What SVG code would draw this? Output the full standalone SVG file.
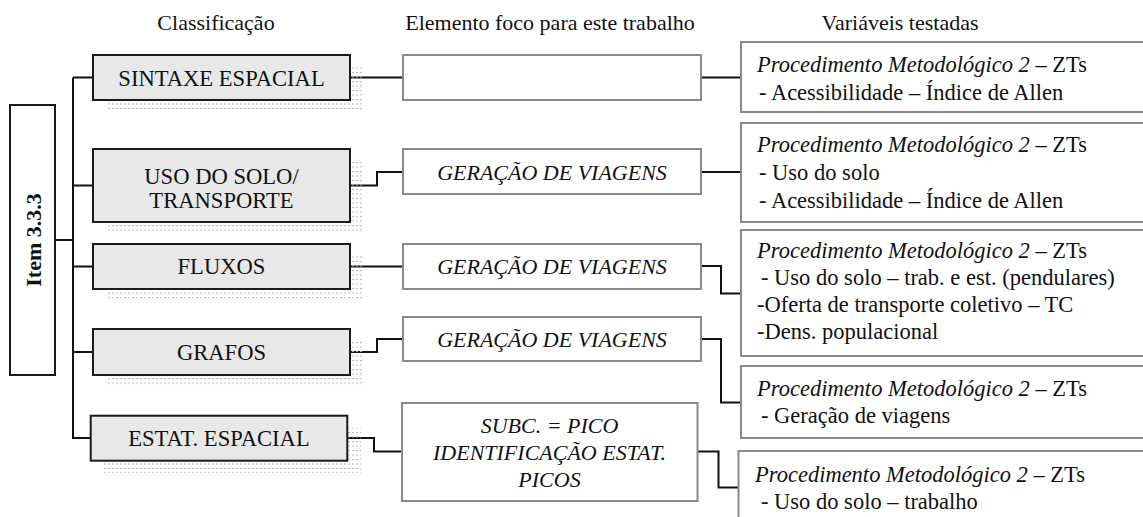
<svg xmlns="http://www.w3.org/2000/svg" width="1143" height="517" viewBox="0 0 1143 517" font-family="'Liberation Serif', 'Times New Roman', Times, serif">
<style>
text{font-family:'Liberation Serif','Times New Roman',Times,serif;font-size:22px;fill:#111}
.hdr{text-anchor:middle}
.cls{fill:#e8e8e8;stroke:#1a1a1a;stroke-width:2}
.shadow{fill:url(#dots);stroke:none}
.mid{fill:#fff;stroke:#8a8a8a;stroke-width:2}
.var{fill:#fff;stroke:#8a8a8a;stroke-width:2}
.ct{text-anchor:middle}
.big{font-size:22.6px}
.vt{font-size:22.5px}
.it{font-style:italic}
.conn{fill:none;stroke:#111;stroke-width:2}
</style>
<defs>
<pattern id="dots" width="4" height="4.5" patternUnits="userSpaceOnUse">
<rect x="0" y="0" width="2" height="1" fill="#b8b8b8"/>
</pattern>
</defs>
<rect width="1143" height="517" fill="#fff"/>

<g id="headers">
<text class="hdr" x="216" y="30">Classificação</text>
<text class="hdr" x="550" y="30">Elemento foco para este trabalho</text>
<text class="hdr" x="900" y="30">Variáveis testadas</text>
</g>

<g id="connectors">
<polyline class="conn" points="55,240 73,240"/>
<polyline class="conn" points="73,77.5 73,438 90.7,438"/>
<polyline class="conn" points="73,77.5 93,77.5"/>
<polyline class="conn" points="73,185.5 93,185.5"/>
<polyline class="conn" points="73,266.5 93,266.5"/>
<polyline class="conn" points="73,352 93,352"/>
<polyline class="conn" points="350,77.5 403,77.5"/>
<polyline class="conn" points="350,185.5 377,185.5 377,172 403,172"/>
<polyline class="conn" points="350,266.5 403,266.5"/>
<polyline class="conn" points="350,352 377,352 377,339 403,339"/>
<polyline class="conn" points="347,438 374,438 374,451.5 402,451.5"/>
<polyline class="conn" points="701,77.5 741,77.5"/>
<polyline class="conn" points="701,172 741,172"/>
<polyline class="conn" points="701,266 721,266 721,293.5 741,293.5"/>
<polyline class="conn" points="701,339 721,339 721,402.5 741,402.5"/>
<polyline class="conn" points="697,451.5 718.5,451.5 718.5,487.5 738.5,487.5"/>
</g>

<g id="item">
<rect x="10" y="105" width="45" height="270" fill="#fff" stroke="#1a1a1a" stroke-width="2"/>
<text x="0" y="0" transform="translate(41,240) rotate(-90)" text-anchor="middle" font-weight="bold">Item 3.3.3</text>
</g>

<g id="sintaxe">
<rect class="shadow" x="107" y="67" width="257" height="45"/>
<rect class="cls" x="93" y="55" width="257" height="45"/>
<text class="ct big" x="221.5" y="85.5">SINTAXE ESPACIAL</text>
</g>
<g id="uso">
<rect class="shadow" x="107" y="161" width="257" height="73"/>
<rect class="cls" x="93" y="149" width="257" height="73"/>
<text class="ct big" x="221.5" y="184">USO DO SOLO/</text>
<text class="ct big" x="221.5" y="208">TRANSPORTE</text>
</g>
<g id="fluxos">
<rect class="shadow" x="107" y="256" width="257" height="45"/>
<rect class="cls" x="93" y="244" width="257" height="45"/>
<text class="ct big" x="221.5" y="274">FLUXOS</text>
</g>
<g id="grafos">
<rect class="shadow" x="107" y="341" width="257" height="46"/>
<rect class="cls" x="93" y="329" width="257" height="46"/>
<text class="ct big" x="221.5" y="359.5">GRAFOS</text>
</g>
<g id="estat">
<rect class="shadow" x="104" y="428" width="257" height="45"/>
<rect class="cls" x="90.7" y="415.7" width="256.6" height="45"/>
<text class="ct big" x="219" y="445.5">ESTAT. ESPACIAL</text>
</g>

<g id="foco1">
<rect class="mid" x="403" y="55" width="298" height="45"/>
</g>
<g id="foco2">
<rect class="mid" x="403" y="149" width="298" height="45"/>
<text class="ct it" x="552" y="179.5">GERAÇÃO DE VIAGENS</text>
</g>
<g id="foco3">
<rect class="mid" x="403" y="244" width="298" height="45"/>
<text class="ct it" x="552" y="273.5">GERAÇÃO DE VIAGENS</text>
</g>
<g id="foco4">
<rect class="mid" x="403" y="317" width="298" height="44"/>
<text class="ct it" x="552" y="346.5">GERAÇÃO DE VIAGENS</text>
</g>
<g id="foco5">
<rect class="mid" x="402" y="403" width="295.5" height="98"/>
<text class="ct it" x="549.5" y="433">SUBC. = PICO</text>
<text class="ct it" x="549.5" y="460">IDENTIFICAÇÃO ESTAT.</text>
<text class="ct it" x="549.5" y="487">PICOS</text>
</g>

<g id="var1">
<rect class="var" x="741" y="42" width="410" height="70"/>
<text class="vt" x="757" y="72"><tspan class="it">Procedimento Metodológico 2 </tspan>– ZTs</text>
<text class="vt" x="759" y="100">- Acessibilidade – Índice de Allen</text>
</g>
<g id="var2">
<rect class="var" x="741" y="123" width="410" height="99"/>
<text class="vt" x="757" y="152"><tspan class="it">Procedimento Metodológico 2 </tspan>– ZTs</text>
<text class="vt" x="759" y="180">- Uso do solo</text>
<text class="vt" x="759" y="208">- Acessibilidade – Índice de Allen</text>
</g>
<g id="var3">
<rect class="var" x="741" y="230" width="410" height="126"/>
<text class="vt" x="757" y="258"><tspan class="it">Procedimento Metodológico 2 </tspan>– ZTs</text>
<text class="vt" x="761" y="285">- Uso do solo – trab. e est. (pendulares)</text>
<text class="vt" x="757" y="312">-Oferta de transporte coletivo – TC</text>
<text class="vt" x="757" y="339">-Dens. populacional</text>
</g>
<g id="var4">
<rect class="var" x="741" y="366" width="410" height="72"/>
<text class="vt" x="757" y="396"><tspan class="it">Procedimento Metodológico 2 </tspan>– ZTs</text>
<text class="vt" x="761" y="423">- Geração de viagens</text>
</g>
<g id="var5">
<rect class="var" x="738.5" y="451" width="412" height="80"/>
<text class="vt" x="755" y="482"><tspan class="it">Procedimento Metodológico 2 </tspan>– ZTs</text>
<text class="vt" x="761" y="509">- Uso do solo – trabalho</text>
</g>
</svg>
